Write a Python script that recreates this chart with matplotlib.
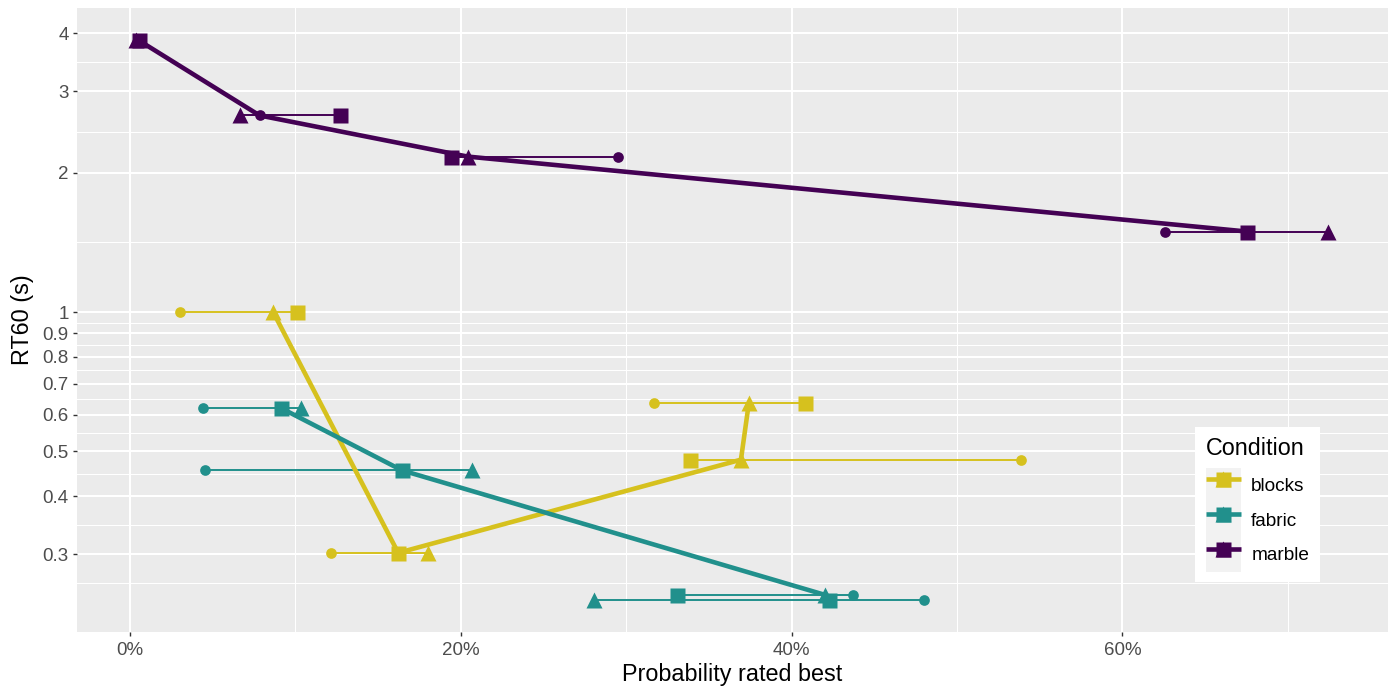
import numpy as np
import matplotlib
matplotlib.use("Agg")
import matplotlib.pyplot as plt
from matplotlib.patches import Patch
from matplotlib.lines import Line2D
from matplotlib.legend_handler import HandlerTuple
from matplotlib.ticker import FixedLocator, FixedFormatter, NullFormatter

plt.rcParams['font.family'] = ['Liberation Sans', 'DejaVu Sans']

conditions = ["blocks", "fabric", "marble"]
colors = ["#D6C11E", "#21908C", "#440154"]

# RT60 (s) per room, in path order; probability rated best (%) per shape
blocks_rt60 = [1.0, 0.302, 0.480, 0.637]
blocks_circle = [3.02, 12.13, 53.85, 31.70]
blocks_triangle = [8.66, 18.00, 36.94, 37.42]
blocks_square = [10.11, 16.22, 33.88, 40.83]

fabric_rt60 = [0.620, 0.455, 0.245, 0.239]
fabric_circle = [4.43, 4.53, 43.71, 48.00]
fabric_triangle = [10.32, 20.66, 42.02, 28.05]
fabric_square = [9.15, 16.46, 33.07, 42.26]

marble_rt60 = [3.875, 2.66, 2.168, 1.493]
marble_circle = [0.48, 7.84, 29.52, 62.58]
marble_triangle = [0.36, 6.65, 20.42, 72.45]
marble_square = [0.54, 12.71, 19.39, 67.55]

y_breaks = [0.3, 0.4, 0.5, 0.6, 0.7, 0.8, 0.9, 1, 2, 3, 4]
y_labels = ["0.3", "0.4", "0.5", "0.6", "0.7", "0.8", "0.9", "1", "2", "3", "4"]
x_breaks = [0, 20, 40, 60]
x_labels = ["0%", "20%", "40%", "60%"]

data = {
    "blocks": (blocks_rt60, blocks_circle, blocks_triangle, blocks_square),
    "fabric": (fabric_rt60, fabric_circle, fabric_triangle, fabric_square),
    "marble": (marble_rt60, marble_circle, marble_triangle, marble_square),
}

W, H = 1394, 691
fig = plt.figure(figsize=(W / 100, H / 100), dpi=100)
L, R, T, B = 77, 1388, 8, 631.7
ax = fig.add_axes([L / W, (H - B) / H, (R - L) / W, (B - T) / H])
ax.set_facecolor("#EBEBEB")
for s in ax.spines.values():
    s.set_visible(False)

ax.set_yscale("log")
ax.set_xlim(-3.2, 76.06)
ax.set_ylim(0.204, 4.54)

# major / minor breaks (minor at log-midpoints, ggplot style)
lb = np.log10(y_breaks)
ext = np.concatenate([[lb[0] - (lb[1] - lb[0])], lb, [lb[-1] + (lb[-1] - lb[-2])]])
y_minor = 10 ** ((ext[:-1] + ext[1:]) / 2)
xb = np.array(x_breaks, dtype=float)
xext = np.concatenate([[xb[0] - (xb[1] - xb[0])], xb, [xb[-1] + (xb[-1] - xb[-2])]])
x_minor = (xext[:-1] + xext[1:]) / 2

ax.yaxis.set_major_locator(FixedLocator(y_breaks))
ax.yaxis.set_major_formatter(FixedFormatter(y_labels))
ax.yaxis.set_minor_locator(FixedLocator(y_minor))
ax.yaxis.set_minor_formatter(NullFormatter())
ax.xaxis.set_major_locator(FixedLocator(x_breaks))
ax.xaxis.set_major_formatter(FixedFormatter(x_labels))
ax.xaxis.set_minor_locator(FixedLocator(x_minor))

ax.grid(which="major", color="white", lw=1.45)
ax.grid(which="minor", color="white", lw=0.72)
ax.set_axisbelow(True)
ax.tick_params(which="minor", length=0)
ax.tick_params(which="major", length=2.9, width=1.0, color="#333333",
               labelsize=13.5, labelcolor="#4D4D4D")
ax.tick_params(axis="x", which="major", pad=4.2)
ax.tick_params(axis="y", which="major", pad=3.0)

# thin range lines
for c, col in zip(conditions, colors):
    rt, ci, tr, sq = data[c]
    for i in range(len(rt)):
        vals = [ci[i], tr[i], sq[i]]
        ax.plot([min(vals), max(vals)], [rt[i], rt[i]], color=col, lw=1.4,
                solid_capstyle="butt", zorder=2)
# thick path through medians
for c, col in zip(conditions, colors):
    rt, ci, tr, sq = data[c]
    med = np.median(np.array([ci, tr, sq]), axis=0)
    ax.plot(med, rt, color=col, lw=3.3, solid_capstyle="butt",
            solid_joinstyle="round", zorder=3)
# points
for c, col in zip(conditions, colors):
    rt, ci, tr, sq = data[c]
    ax.plot(ci, rt, "o", ms=7.7, color=col, mec="none", zorder=4)
    ax.plot(tr, rt, "^", ms=12.0, color=col, mec="none", zorder=4)
    ax.plot(sq, rt, "s", ms=10.8, color=col, mec="none", zorder=4)

ax.set_xlabel("Probability rated best", fontsize=16.8, color="black", labelpad=3.5)
ax.set_ylabel("RT60 (s)", fontsize=16.8, color="black", labelpad=6.0)

handles = []
for col in colors:
    bg = Patch(facecolor="#F2F2F2", edgecolor="none")
    ln = Line2D([], [], color=col, lw=3.3, solid_capstyle="butt")
    m1 = Line2D([], [], marker="o", ms=7.7, color=col, mec="none", ls="none")
    m2 = Line2D([], [], marker="^", ms=12.0, color=col, mec="none", ls="none")
    m3 = Line2D([], [], marker="s", ms=10.8, color=col, mec="none", ls="none")
    handles.append((bg, ln, m1, m2, m3))

leg = ax.legend(handles, conditions, handler_map={tuple: HandlerTuple(ndivide=1, pad=0)},
                title="Condition", loc="lower right", bbox_to_anchor=(0.9478, 0.079),
                borderaxespad=0, fontsize=13.7, title_fontsize=16.8, frameon=True,
                fancybox=False, framealpha=1, edgecolor="white", facecolor="white",
                handlelength=1.84, handleheight=2.43, labelspacing=0.0,
                handletextpad=0.55, borderpad=0.55, numpoints=1, alignment="left")
leg.get_frame().set_linewidth(0)
leg._legend_box.sep = 5.5

fig.savefig("out.png", dpi=100)
